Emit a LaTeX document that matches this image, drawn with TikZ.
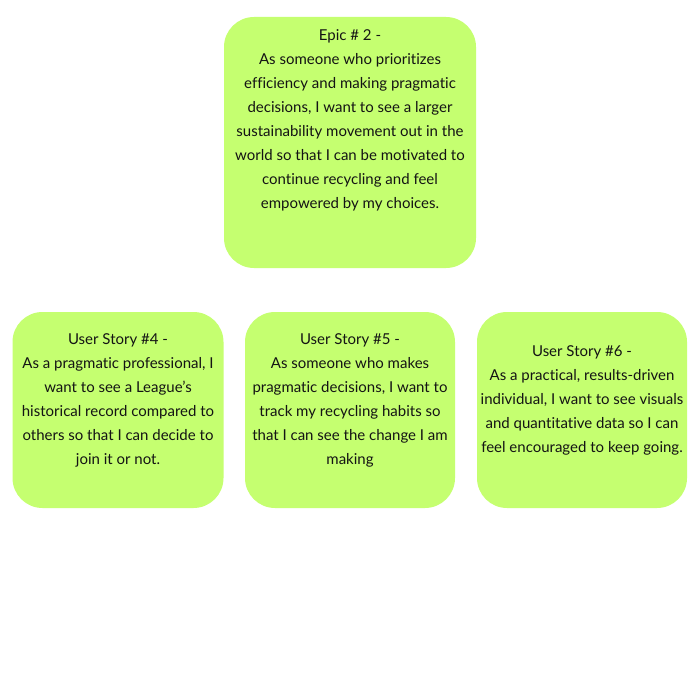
\documentclass[tikz,border=0pt]{standalone}
\usepackage{fontspec}
\setmainfont{Lato}[Ligatures={NoCommon}]
\definecolor{boxgreen}{RGB}{197,255,112}
\definecolor{inkc}{RGB}{20,20,20}
\tikzset{
  card/.style={fill=boxgreen, draw=none, rounded corners=30pt, minimum width=#1, inner sep=0pt},
  cardtext/.style={text=inkc, align=center, inner sep=0pt, font=\fontsize{15}{24}\selectfont}
}
\begin{document}
\begin{tikzpicture}[x=1pt,y=-1pt]
\useasboundingbox (0,0) rectangle (700,700);
\fill[white] (0,0) rectangle (700,700);
% boxes
\node[card=252pt, minimum height=251pt] (epic) at (350,142.5) {};
\node[card=211pt, minimum height=196pt] (s4) at (118,410) {};
\node[card=210pt, minimum height=196pt] (s5) at (350,410) {};
\node[card=210pt, minimum height=196pt] (s6) at (582,410) {};
% texts
\node[cardtext] (epict) at (350,120.5) {Epic \# 2 -\\As someone who prioritizes\\efficiency and making pragmatic\\decisions, I want to see a larger\\sustainability movement out in the\\world so that I can be motivated to\\continue recycling and feel\\empowered by my choices.};
\node[cardtext] (s4t) at (118,400.5) {User Story \#4 -\\As a pragmatic professional, I\\want to see a League's\\historical record compared to\\others so that I can decide to\\join it or not.};
\node[cardtext] (s5t) at (350,400.5) {User Story \#5 -\\As someone who makes\\pragmatic decisions, I want to\\track my recycling habits so\\that I can see the change I am\\making};
\node[cardtext] (s6t) at (582,400.5) {User Story \#6 -\\As a practical, results-driven\\individual, I want to see visuals\\and quantitative data so I can\\feel encouraged to keep going.};
\end{tikzpicture}
\end{document}
